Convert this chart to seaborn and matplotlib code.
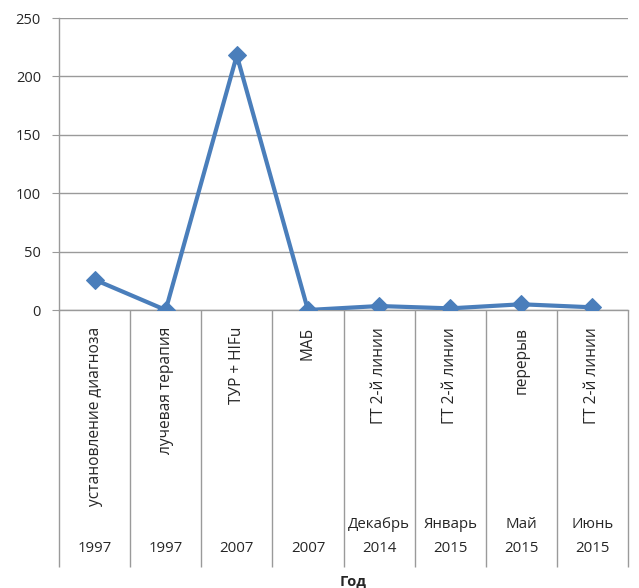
import matplotlib
matplotlib.use("Agg")
import matplotlib.pyplot as plt
import matplotlib.transforms as mtransforms
import numpy as np
import seaborn as sns

events = ["установление диагноза", "лучевая терапия", "ТУР + HIFu", "МАБ",
          "ГТ 2-й линии", "ГТ 2-й линии", "перерыв", "ГТ 2-й линии"]
months = ["", "", "", "", "Декабрь", "Январь", "Май", "Июнь"]
years = ["1997", "1997", "2007", "2007", "2014", "2015", "2015", "2015"]
values = [26, 0, 218, 0, 3.4, 1.4, 4.9, 2.3]
y_ticks = [0, 50, 100, 150, 200, 250]

sns.set_style("white")
plt.rcParams["font.family"] = ["Open Sans", "DejaVu Sans"]

W, H = 639, 588
fig = plt.figure(figsize=(W / 100, H / 100), dpi=100)
x0, x1, y0, y1 = 59, 628, 18, 310
ax = fig.add_axes([x0 / W, 1 - y1 / H, (x1 - x0) / W, (y1 - y0) / H])

grid_col = "#9a9a9a"
xs = np.arange(len(values))
sns.lineplot(x=xs, y=values, ax=ax, color="#4A7EBB", linewidth=3,
             marker="D", markersize=9, markeredgecolor="#4A7EBB", zorder=3)

ax.set_xlim(-0.5, len(values) - 0.5)
ax.set_ylim(0, 250)
ax.set_yticks(y_ticks)
ax.set_yticklabels([str(t) for t in y_ticks], fontsize=10.5)
ax.yaxis.grid(True, color=grid_col, linewidth=1)
ax.set_xticks([])
for s in ["top", "right"]:
    ax.spines[s].set_visible(False)
for s in ["left", "bottom"]:
    ax.spines[s].set_color(grid_col)
    ax.spines[s].set_linewidth(1)
ax.tick_params(axis="y", length=5, color=grid_col, direction="out", left=True, pad=8)

# category axis: separators and two-level labels
trans = mtransforms.blended_transform_factory(ax.transData, ax.transAxes)
ph = y1 - y0
def ay(py):
    return -(py - y1) / ph

seps = np.arange(len(values) + 1) - 0.5
ax.vlines(seps, ay(567), 0, transform=trans, colors=grid_col, linewidth=1, clip_on=False)

for i in xs:
    ax.text(i, ay(327), events[i], transform=trans, rotation=90, ha="center",
            va="top", fontsize=11.2)
    if months[i]:
        ax.text(i, ay(525), months[i], transform=trans, ha="center", va="center",
                fontsize=10.8)
    ax.text(i, ay(548), years[i], transform=trans, ha="center", va="center",
            fontsize=10.8)

fig.text(353 / W, 1 - 582 / H, "Год", ha="center", va="center",
         fontsize=10.5, fontweight="bold")

fig.savefig("out.png", dpi=100)
